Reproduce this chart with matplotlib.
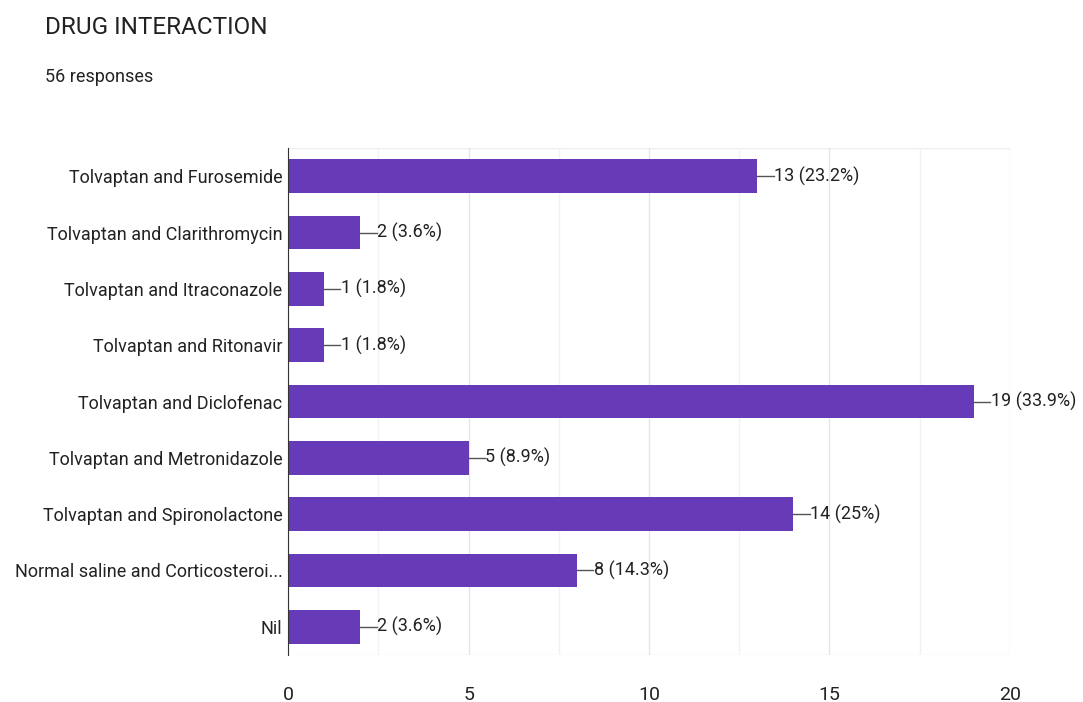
import matplotlib
matplotlib.use("Agg")
import matplotlib.pyplot as plt
import numpy as np

plt.rcParams['font.family'] = ['Roboto', 'DejaVu Sans']

# data
categories = [
    "Tolvaptan and Furosemide",
    "Tolvaptan and Clarithromycin",
    "Tolvaptan and Itraconazole",
    "Tolvaptan and Ritonavir",
    "Tolvaptan and Diclofenac",
    "Tolvaptan and Metronidazole",
    "Tolvaptan and Spironolactone",
    "Normal saline and Corticosteroi...",
    "Nil",
]
counts = [13, 2, 1, 1, 19, 5, 14, 8, 2]
pct_labels = ["23.2%", "3.6%", "1.8%", "1.8%", "33.9%", "8.9%", "25%", "14.3%", "3.6%"]
xticks = [0, 5, 10, 15, 20]

bar_color = "#673ab7"
text_color = "#222222"

fig = plt.figure(figsize=(10.83, 7.02), dpi=100)
ax = fig.add_axes([0.266, 0.067, 0.6665, 0.722])

y = np.arange(len(categories))
ax.barh(y, counts, height=0.6, color=bar_color, zorder=3)

for yi, c, p in zip(y, counts, pct_labels):
    ax.plot([c, c + 0.45], [yi, yi], color="#555555", lw=1, zorder=3)
    ax.text(c + 0.47, yi, f"{c} ({p})", va="center", ha="left",
            fontsize=13, color=text_color)

ax.set_ylim(len(categories) - 0.5, -0.5)
ax.set_xlim(0, 20)
ax.set_yticks(y)
ax.set_yticklabels(categories, fontsize=13, color=text_color)
ax.set_xticks(xticks)
ax.set_xticklabels([str(t) for t in xticks], fontsize=14, color=text_color)
ax.set_xticks(np.arange(2.5, 20, 5), minor=True)
ax.tick_params(axis="both", which="both", length=0, pad=4)
ax.tick_params(axis="x", which="major", pad=22)

ax.grid(axis="x", which="major", color="#e6e6e6", lw=1, zorder=0)
ax.grid(axis="x", which="minor", color="#f2f2f2", lw=1, zorder=0)
for s in ["top", "right", "bottom"]:
    ax.spines[s].set_visible(False)
ax.spines["left"].set_color("#333333")
ax.spines["left"].set_zorder(4)
ax.axhline(-0.5, color="#eeeeee", lw=1, zorder=0)
ax.axhline(len(categories) - 0.5, color="#eeeeee", lw=1, zorder=0)

fig.text(45 / 1083, 1 - 27 / 702, "DRUG INTERACTION", fontsize=17.5,
         va="center", ha="left", color=text_color)
fig.text(45 / 1083, 1 - 77 / 702, "56 responses", fontsize=13,
         va="center", ha="left", color=text_color)

fig.savefig("out.png", dpi=100)
